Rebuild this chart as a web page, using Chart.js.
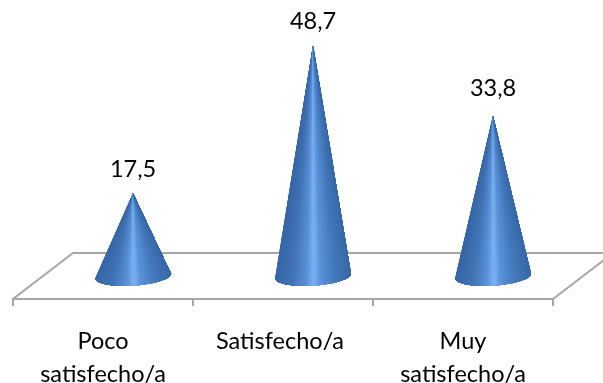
<!DOCTYPE html>
<html>
<head>
<meta charset="utf-8">
<style>
html,body{margin:0;padding:0;background:#fff}
#wrap{width:603px;height:383px;position:relative}
</style>
<script src="https://cdn.jsdelivr.net/npm/chart.js@4"></script>
</head>
<body>
<div id="wrap"><canvas id="c" width="603" height="383"></canvas></div>
<script>
const categories = [["Poco", "satisfecho/a"], "Satisfecho/a ", ["Muy", "satisfecho/a"]];
const satisfaction = [17.5, 48.7, 33.8];
const valueLabels = ["17,5", "48,7", "33,8"];

const FONT = "Lato, Carlito, sans-serif";
const FONT_SIZE = 23.5;
const AXIS = "#a6a6a6";
// Oblique offset of the floor's back edge from its front edge.
const DEPTH_X = 60, DEPTH_Y = -46;
// Cone base: a slightly tilted ellipse, as seen in the oblique view.
const CONE_RX = 38, CONE_RY = 9.5, CONE_TILT = -0.065;
const SLICES = 150;
// Distance of each value label above its cone's tip.
const LABEL_LIFT = [24, 24, 28];

// Shading across the cone, from its left silhouette to its right one.
const SHADE = [
  [0.00, [54, 102, 166]],
  [0.22, [66, 116, 182]],
  [0.40, [88, 144, 214]],
  [0.50, [124, 178, 242]],
  [0.60, [90, 146, 216]],
  [0.80, [68, 120, 186]],
  [1.00, [56, 106, 168]]
];

function shadeAt(t) {
  for (let i = 1; i < SHADE.length; i++) {
    const [t0, c0] = SHADE[i - 1], [t1, c1] = SHADE[i];
    if (t <= t1) {
      const k = (t - t0) / (t1 - t0);
      return "rgb(" + c0.map((v, j) => Math.round(v + (c1[j] - v) * k)).join(",") + ")";
    }
  }
  return "rgb(" + SHADE[SHADE.length - 1][1].join(",") + ")";
}

const cones3d = {
  id: "cones3d",
  beforeDatasetsDraw(chart) {
    const {ctx, chartArea: a} = chart;
    const left = a.left, right = a.right, y = a.bottom;
    ctx.save();
    ctx.strokeStyle = AXIS;
    ctx.lineWidth = 2;
    ctx.beginPath();
    ctx.moveTo(left, y);
    ctx.lineTo(left + DEPTH_X, y + DEPTH_Y);
    ctx.lineTo(chart.width, y + DEPTH_Y);
    ctx.moveTo(right, y);
    ctx.lineTo(right + DEPTH_X, y + DEPTH_Y);
    ctx.stroke();
    ctx.restore();
  },
  afterDatasetsDraw(chart) {
    const {ctx} = chart;
    chart.getDatasetMeta(0).data.forEach((bar, i) => {
      const cx = bar.x + DEPTH_X / 2;
      const base = bar.base + DEPTH_Y / 2;
      const tip = bar.y + DEPTH_Y / 2;
      ctx.save();
      // Paint left to right, each step covering everything still to its right,
      // so neighbouring wedges leave no seams and the highlight narrows upward.
      for (let n = 0; n < SLICES; n++) {
        const start = Math.PI - Math.PI * n / SLICES;
        ctx.fillStyle = shadeAt((1 + Math.cos(start - Math.PI / SLICES / 2)) / 2);
        ctx.beginPath();
        ctx.moveTo(cx, tip);
        ctx.ellipse(cx, base, CONE_RX, CONE_RY, CONE_TILT, start, 0, true);
        ctx.closePath();
        ctx.fill();
      }
      ctx.fillStyle = "#000";
      ctx.font = FONT_SIZE + "px " + FONT;
      ctx.textAlign = "center";
      ctx.textBaseline = "middle";
      ctx.fillText(valueLabels[i], cx, tip - LABEL_LIFT[i]);
      ctx.restore();
    });
  }
};

new Chart(document.getElementById("c"), {
  type: "bar",
  data: {
    labels: categories,
    datasets: [{data: satisfaction, backgroundColor: "rgba(0,0,0,0)", borderWidth: 0}]
  },
  options: {
    responsive: false,
    animation: false,
    layout: {padding: {left: 13, right: 50, top: 15, bottom: 0}},
    plugins: {legend: {display: false}, tooltip: {enabled: false}},
    scales: {
      x: {
        grid: {drawOnChartArea: false, color: AXIS, lineWidth: 2, tickLength: 7},
        border: {color: AXIS, width: 2},
        ticks: {color: "#000", font: {family: FONT, size: FONT_SIZE, lineHeight: 1.4}, padding: 19, maxRotation: 0, autoSkip: false},
        afterFit(scale) { scale.height = 84; }
      },
      y: {display: false, min: 0, max: 60}
    }
  },
  plugins: [cones3d]
});
</script>
</body>
</html>
